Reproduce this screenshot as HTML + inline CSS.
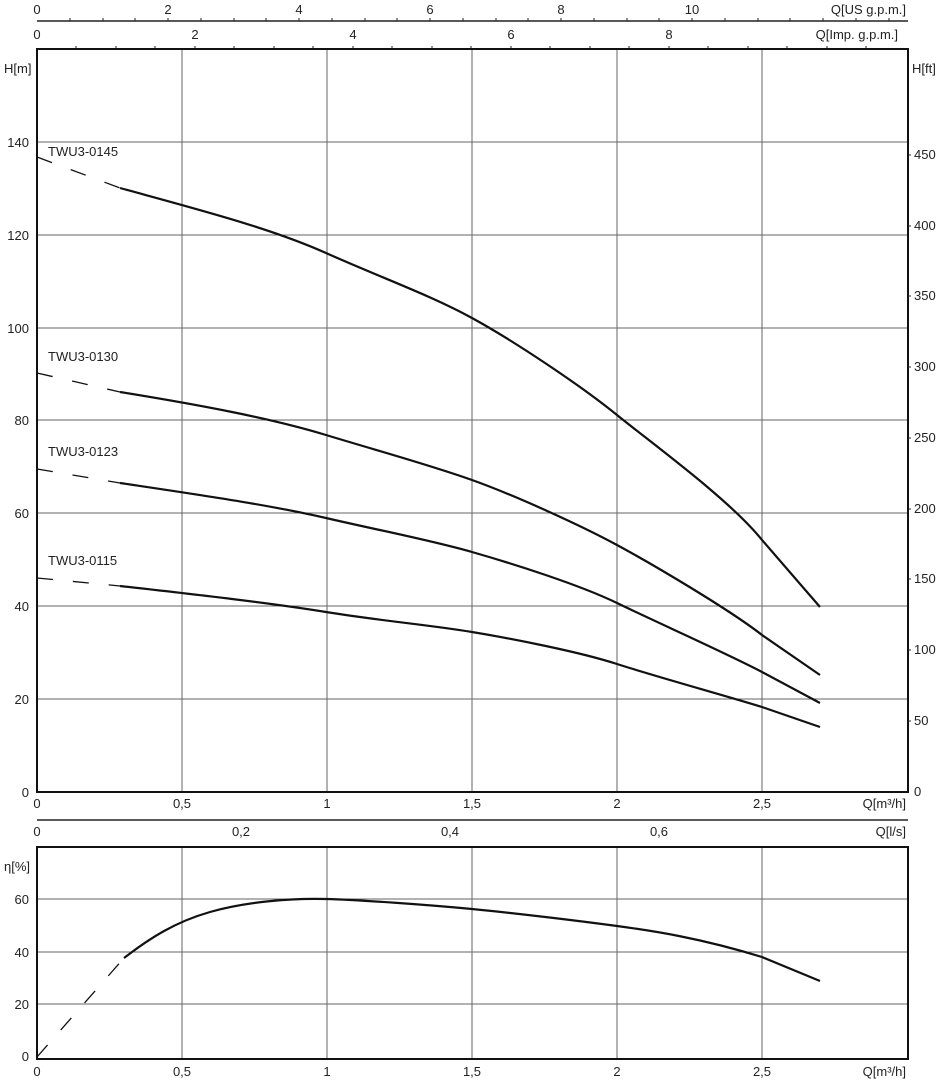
<!DOCTYPE html>
<html><head><meta charset="utf-8"><style>
html,body{margin:0;padding:0;background:#fff;}
svg{display:block;font-family:"Liberation Sans","DejaVu Sans",sans-serif;}
</style></head><body>
<svg width="941" height="1080" viewBox="0 0 941 1080" xmlns="http://www.w3.org/2000/svg">
<g font-size="13" fill="#222">
<!-- top US gpm axis -->
<line x1="37" y1="21" x2="908" y2="21" stroke="#222" stroke-width="1.5"/>
<text x="37" y="14" text-anchor="middle">0</text>
<text x="168" y="14" text-anchor="middle">2</text>
<text x="299" y="14" text-anchor="middle">4</text>
<text x="430" y="14" text-anchor="middle">6</text>
<text x="561" y="14" text-anchor="middle">8</text>
<text x="692" y="14" text-anchor="middle">10</text>
<text x="906" y="14" text-anchor="end">Q[US g.p.m.]</text>
<g stroke="#222" stroke-width="1">
<line x1="70" y1="21" x2="70" y2="18"/><line x1="103" y1="21" x2="103" y2="18"/><line x1="135" y1="21" x2="135" y2="18"/><line x1="168" y1="21" x2="168" y2="18"/><line x1="201" y1="21" x2="201" y2="18"/><line x1="234" y1="21" x2="234" y2="18"/><line x1="266" y1="21" x2="266" y2="18"/><line x1="299" y1="21" x2="299" y2="18"/><line x1="332" y1="21" x2="332" y2="18"/><line x1="365" y1="21" x2="365" y2="18"/><line x1="397" y1="21" x2="397" y2="18"/><line x1="430" y1="21" x2="430" y2="18"/><line x1="463" y1="21" x2="463" y2="18"/><line x1="496" y1="21" x2="496" y2="18"/><line x1="528" y1="21" x2="528" y2="18"/><line x1="561" y1="21" x2="561" y2="18"/><line x1="594" y1="21" x2="594" y2="18"/><line x1="627" y1="21" x2="627" y2="18"/><line x1="659" y1="21" x2="659" y2="18"/><line x1="692" y1="21" x2="692" y2="18"/><line x1="725" y1="21" x2="725" y2="18"/><line x1="758" y1="21" x2="758" y2="18"/><line x1="790" y1="21" x2="790" y2="18"/><line x1="823" y1="21" x2="823" y2="18"/><line x1="856" y1="21" x2="856" y2="18"/><line x1="889" y1="21" x2="889" y2="18"/>
</g>
<!-- Imp gpm labels -->
<text x="37" y="39" text-anchor="middle">0</text>
<text x="195" y="39" text-anchor="middle">2</text>
<text x="353" y="39" text-anchor="middle">4</text>
<text x="511" y="39" text-anchor="middle">6</text>
<text x="669" y="39" text-anchor="middle">8</text>
<text x="898" y="39" text-anchor="end">Q[Imp. g.p.m.]</text>
<g stroke="#222" stroke-width="1">
<line x1="76" y1="49" x2="76" y2="46"/><line x1="116" y1="49" x2="116" y2="46"/><line x1="155" y1="49" x2="155" y2="46"/><line x1="195" y1="49" x2="195" y2="46"/><line x1="234" y1="49" x2="234" y2="46"/><line x1="274" y1="49" x2="274" y2="46"/><line x1="313" y1="49" x2="313" y2="46"/><line x1="353" y1="49" x2="353" y2="46"/><line x1="392" y1="49" x2="392" y2="46"/><line x1="432" y1="49" x2="432" y2="46"/><line x1="471" y1="49" x2="471" y2="46"/><line x1="511" y1="49" x2="511" y2="46"/><line x1="550" y1="49" x2="550" y2="46"/><line x1="590" y1="49" x2="590" y2="46"/><line x1="629" y1="49" x2="629" y2="46"/><line x1="669" y1="49" x2="669" y2="46"/><line x1="708" y1="49" x2="708" y2="46"/><line x1="748" y1="49" x2="748" y2="46"/><line x1="787" y1="49" x2="787" y2="46"/><line x1="827" y1="49" x2="827" y2="46"/><line x1="866" y1="49" x2="866" y2="46"/>
</g>

<!-- main grid -->
<g stroke="#666" stroke-width="1">
<line x1="182" y1="49" x2="182" y2="792"/><line x1="327" y1="49" x2="327" y2="792"/><line x1="472" y1="49" x2="472" y2="792"/><line x1="617" y1="49" x2="617" y2="792"/><line x1="762" y1="49" x2="762" y2="792"/>
<line x1="37" y1="142" x2="908" y2="142"/><line x1="37" y1="235" x2="908" y2="235"/><line x1="37" y1="328" x2="908" y2="328"/><line x1="37" y1="420" x2="908" y2="420"/><line x1="37" y1="513" x2="908" y2="513"/><line x1="37" y1="606" x2="908" y2="606"/><line x1="37" y1="699" x2="908" y2="699"/>
</g>
<rect x="37" y="49" width="871" height="743" fill="none" stroke="#111" stroke-width="2"/>
<text x="4" y="73">H[m]</text>
<text x="912" y="73">H[ft]</text>
<g text-anchor="end">
<text x="29" y="147">140</text><text x="29" y="240">120</text><text x="29" y="333">100</text><text x="29" y="425">80</text><text x="29" y="518">60</text><text x="29" y="611">40</text><text x="29" y="704">20</text><text x="29" y="797">0</text>
</g>
<g text-anchor="start">
<text x="914" y="159">450</text><text x="914" y="230">400</text><text x="914" y="300">350</text><text x="914" y="371">300</text><text x="914" y="442">250</text><text x="914" y="513">200</text><text x="914" y="583">150</text><text x="914" y="654">100</text><text x="914" y="725">50</text><text x="914" y="796">0</text>
</g>
<g stroke="#222" stroke-width="1">
<line x1="908" y1="155" x2="911" y2="155"/><line x1="908" y1="226" x2="911" y2="226"/><line x1="908" y1="296" x2="911" y2="296"/><line x1="908" y1="367" x2="911" y2="367"/><line x1="908" y1="438" x2="911" y2="438"/><line x1="908" y1="509" x2="911" y2="509"/><line x1="908" y1="579" x2="911" y2="579"/><line x1="908" y1="650" x2="911" y2="650"/><line x1="908" y1="721" x2="911" y2="721"/>
</g>
<g text-anchor="middle">
<text x="37" y="808">0</text><text x="182" y="808">0,5</text><text x="327" y="808">1</text><text x="472" y="808">1,5</text><text x="617" y="808">2</text><text x="762" y="808">2,5</text>
</g>
<text x="906" y="808" text-anchor="end">Q[m³/h]</text>

<!-- l/s axis -->
<line x1="37" y1="820" x2="908" y2="820" stroke="#222" stroke-width="1.5"/>
<g text-anchor="middle">
<text x="37" y="836">0</text><text x="241" y="836">0,2</text><text x="450" y="836">0,4</text><text x="659" y="836">0,6</text>
</g>
<text x="906" y="836" text-anchor="end">Q[l/s]</text>

<!-- curve labels -->
<text x="48" y="156">TWU3-0145</text>
<text x="48" y="361">TWU3-0130</text>
<text x="48" y="456">TWU3-0123</text>
<text x="48" y="565">TWU3-0115</text>
</g>

<!-- curves -->
<g fill="none" stroke="#111" stroke-width="2.2">
<path d="M37,157 L120,188" stroke-dasharray="16,20" stroke-width="1.3"/>
<path d="M120,188 C200,210 270,228 326,253 S430,295 472,318 S580,385 617,415 S730,500 762,540 L820,607"/>
<path d="M37,373 L120,392" stroke-dasharray="16,20" stroke-width="1.3"/>
<path d="M120,392 C200,405 270,418 326,435 S430,465 472,480 S580,525 617,545 S730,610 762,635 L820,675"/>
<path d="M37,469 L120,483" stroke-dasharray="16,20" stroke-width="1.3"/>
<path d="M120,483 C200,495 270,505 326,518 S430,540 472,552 S580,585 617,603 S730,655 762,672 L820,703"/>
<path d="M37,578 L120,586" stroke-dasharray="16,20" stroke-width="1.3"/>
<path d="M120,586 C200,595 270,603 326,612 S430,625 472,632 S580,652 617,664 S730,697 762,707 L820,727"/>
</g>

<!-- lower chart -->
<g stroke="#666" stroke-width="1">
<line x1="182" y1="847" x2="182" y2="1059"/><line x1="327" y1="847" x2="327" y2="1059"/><line x1="472" y1="847" x2="472" y2="1059"/><line x1="617" y1="847" x2="617" y2="1059"/><line x1="762" y1="847" x2="762" y2="1059"/>
<line x1="37" y1="899" x2="908" y2="899"/><line x1="37" y1="952" x2="908" y2="952"/><line x1="37" y1="1004" x2="908" y2="1004"/>
</g>
<rect x="37" y="847" width="871" height="212" fill="none" stroke="#111" stroke-width="2"/>
<g font-size="13" fill="#222">
<text x="4" y="871">η[%]</text>
<g text-anchor="end"><text x="29" y="904">60</text><text x="29" y="957">40</text><text x="29" y="1009">20</text><text x="29" y="1061">0</text></g>
<g text-anchor="middle">
<text x="37" y="1076">0</text><text x="182" y="1076">0,5</text><text x="327" y="1076">1</text><text x="472" y="1076">1,5</text><text x="617" y="1076">2</text><text x="762" y="1076">2,5</text>
</g>
<text x="906" y="1076" text-anchor="end">Q[m³/h]</text>
</g>
<g fill="none" stroke="#111" stroke-width="2.2">
<path d="M37,1057 L124,958" stroke-dasharray="16,20" stroke-width="1.3"/>
<path d="M124,958 C150,938 175,922 210,912 S290,898 326,899 S430,905 472,909 S580,921 617,926 S700,938 762,957 L820,981"/>
</g>
</svg>
</body></html>
